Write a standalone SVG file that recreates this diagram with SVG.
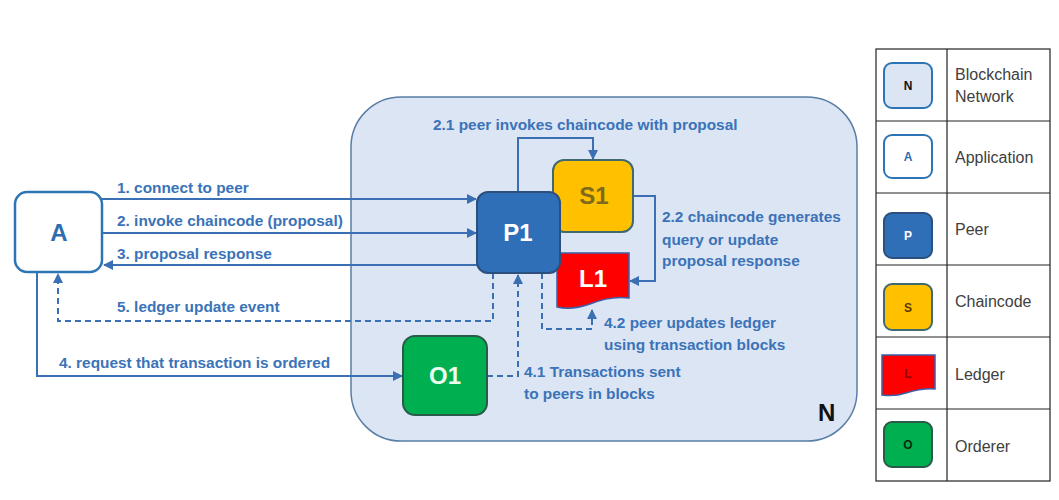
<svg xmlns="http://www.w3.org/2000/svg" width="1059" height="500" viewBox="0 0 1059 500">
<style>
.lbl{font-family:"Liberation Sans",Arial,sans-serif;font-weight:bold;font-size:15.4px;fill:#3a73b8}
.big{font-family:"Liberation Sans",Arial,sans-serif;font-weight:bold;font-size:24px;text-anchor:middle}
.leg{font-family:"Liberation Sans",Arial,sans-serif;font-size:16px;fill:#404040}
.ico{font-family:"Liberation Sans",Arial,sans-serif;font-weight:bold;font-size:12px;text-anchor:middle}
.ln{fill:none;stroke:#3a6fb4;stroke-width:2}
.ds{fill:none;stroke:#3a6fb4;stroke-width:2;stroke-dasharray:6,4}
.grid{fill:none;stroke:#222;stroke-width:1.2}
</style>
<defs>
<marker id="ah" viewBox="0 0 10 10" refX="9" refY="5" markerWidth="5" markerHeight="5" orient="auto">
<path d="M0,0 L10,5 L0,10 z" fill="#3a6fb4"/>
</marker>
</defs>
<rect width="1059" height="500" fill="#ffffff"/>

<g id="network">
<rect x="351" y="97" width="506" height="344" rx="50" fill="#dce5f3" stroke="#5a7ea6" stroke-width="1.5"/>
<text x="818" y="421" font-family="Liberation Sans,Arial,sans-serif" font-weight="bold" font-size="24" fill="#111">N</text>
</g>

<g id="connectors">
<line class="ln" x1="102" y1="199" x2="476" y2="199" marker-end="url(#ah)"/>
<line class="ln" x1="102" y1="233" x2="476" y2="233" marker-end="url(#ah)"/>
<line class="ln" x1="477" y1="265" x2="104" y2="265" marker-end="url(#ah)"/>
<path class="ds" d="M493,273 V321 H58 V274" marker-end="url(#ah)"/>
<path class="ln" d="M37,272 V376 H402" marker-end="url(#ah)"/>
<path class="ds" d="M487,376 H518 V275" marker-end="url(#ah)"/>
<path class="ds" d="M542,273 V329 H592 V310" marker-end="url(#ah)"/>
<path class="ln" d="M518,192 V138 H593 V159" marker-end="url(#ah)"/>
<path class="ln" d="M633,196 H655 V281 H630" marker-end="url(#ah)"/>
<text class="lbl" x="117" y="193">1. connect to peer</text>
<text class="lbl" x="117" y="226">2. invoke chaincode (proposal)</text>
<text class="lbl" x="117" y="259">3. proposal response</text>
<text class="lbl" x="117" y="312">5. ledger update event</text>
<text class="lbl" x="59" y="368">4. request that transaction is ordered</text>
<text class="lbl" x="433" y="130">2.1 peer invokes chaincode with proposal</text>
<text class="lbl" x="662" y="222">2.2 chaincode generates</text>
<text class="lbl" x="662" y="245">query or update</text>
<text class="lbl" x="662" y="266">proposal response</text>
<text class="lbl" x="604" y="328">4.2 peer updates ledger</text>
<text class="lbl" x="604" y="350">using transaction blocks</text>
<text class="lbl" x="524" y="377">4.1 Transactions sent</text>
<text class="lbl" x="524" y="399">to peers in blocks</text>
</g>

<g id="A">
<rect x="15" y="192" width="87" height="80" rx="12" fill="#ffffff" stroke="#2e75b6" stroke-width="2.5"/>
<text class="big" x="59" y="241" fill="#2e6db0">A</text>
</g>

<g id="S1">
<rect x="553" y="160" width="80" height="72" rx="11" fill="#ffc000" stroke="#3e6a70" stroke-width="2"/>
<text class="big" x="594" y="204" fill="#7d6a1c">S1</text>
</g>

<g id="L1">
<path d="M557,253 H629 V298 C612,296 600,300 590,304 C576,309 566,309 557,307 Z" fill="#ff0000" stroke="#3b5fa8" stroke-width="1.5"/>
<text class="big" x="593" y="287" fill="#ffffff">L1</text>
</g>

<g id="P1">
<rect x="477" y="192" width="83" height="81" rx="11" fill="#2f6fb8" stroke="#2c4f7e" stroke-width="2"/>
<text class="big" x="518" y="241" fill="#ffffff">P1</text>
</g>

<g id="O1">
<rect x="403" y="336" width="84" height="79" rx="12" fill="#00b050" stroke="#2a5a48" stroke-width="2"/>
<text class="big" x="445" y="384" fill="#eafff0">O1</text>
</g>

<g id="legend">
<rect class="grid" x="876" y="49" width="174" height="432"/>
<line class="grid" x1="947" y1="49" x2="947" y2="481"/>
<line class="grid" x1="876" y1="121" x2="1050" y2="121"/>
<line class="grid" x1="876" y1="193" x2="1050" y2="193"/>
<line class="grid" x1="876" y1="265" x2="1050" y2="265"/>
<line class="grid" x1="876" y1="337" x2="1050" y2="337"/>
<line class="grid" x1="876" y1="409" x2="1050" y2="409"/>

<rect x="884" y="63" width="48" height="45" rx="8" fill="#dce5f3" stroke="#2e75b6" stroke-width="2"/>
<text class="ico" x="908" y="90" fill="#111">N</text>
<text class="leg" x="955" y="80">Blockchain</text>
<text class="leg" x="955" y="102">Network</text>

<rect x="884" y="135" width="48" height="43" rx="8" fill="#ffffff" stroke="#2e75b6" stroke-width="2"/>
<text class="ico" x="908" y="161" fill="#2e6db0">A</text>
<text class="leg" x="955" y="163">Application</text>

<rect x="884" y="213" width="48" height="45" rx="8" fill="#2f6fb8" stroke="#2c4f7e" stroke-width="2"/>
<text class="ico" x="908" y="240" fill="#ffffff">P</text>
<text class="leg" x="955" y="235">Peer</text>

<rect x="884" y="284" width="48" height="46" rx="8" fill="#ffc000" stroke="#3e6a70" stroke-width="2"/>
<text class="ico" x="908" y="312" fill="#5a3a00">S</text>
<text class="leg" x="955" y="307">Chaincode</text>

<path d="M882,355 H935 V389 C924,388 916,390 906,393 C897,396 889,396 882,395 Z" fill="#ff0000" stroke="#3b5fa8" stroke-width="1.5"/>
<text class="ico" x="908" y="378" fill="#8a0000">L</text>
<text class="leg" x="955" y="380">Ledger</text>

<rect x="884" y="422" width="48" height="45" rx="8" fill="#00b050" stroke="#2a5a48" stroke-width="2"/>
<text class="ico" x="908" y="449" fill="#0a2a10">O</text>
<text class="leg" x="955" y="452">Orderer</text>
</g>
</svg>
